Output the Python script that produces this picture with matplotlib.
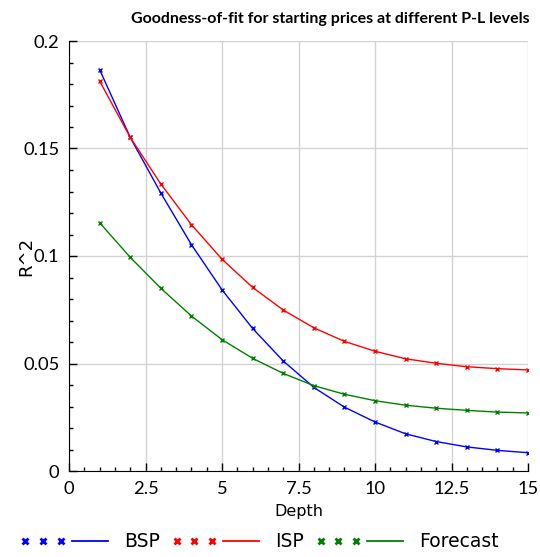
import matplotlib
matplotlib.use("Agg")
import matplotlib.pyplot as plt
from matplotlib.lines import Line2D
from matplotlib.legend_handler import HandlerTuple
from matplotlib.ticker import MultipleLocator, FuncFormatter

depth = list(range(1, 16))
bsp = [0.1867, 0.1552, 0.1293, 0.1053, 0.0843, 0.0663, 0.0512, 0.0389, 0.0297,
       0.0228, 0.0173, 0.0137, 0.0112, 0.0096, 0.0085]
isp = [0.1814, 0.1552, 0.1335, 0.1146, 0.0985, 0.0854, 0.0749, 0.0666, 0.0603,
       0.0557, 0.0522, 0.0501, 0.0485, 0.0476, 0.0470]
forecast = [0.1155, 0.0994, 0.0850, 0.0721, 0.0611, 0.0524, 0.0454, 0.0397, 0.0357,
            0.0327, 0.0306, 0.0292, 0.0282, 0.0274, 0.0270]
series_names = ["BSP", "ISP", "Forecast"]
colors = ["#0000ff", "#ff0000", "#008000"]

fig = plt.figure(figsize=(5.4, 5.57), dpi=100)
ax = fig.add_axes([69/540, 1-471/557, (528-69)/540, (471-41)/557])

handles = []
for vals, c in zip([bsp, isp, forecast], colors):
    ax.plot(depth, vals, color=c, lw=1.0, marker="x", ms=3.5, mew=1.0)
    mk = Line2D([], [], color=c, ls="none", marker="x", ms=5, mew=2)
    ln = Line2D([], [], color=c, lw=1.3)
    handles.append((mk, ln))

ax.set_xlim(0, 15)
ax.set_ylim(0, 0.2)
ax.xaxis.set_major_locator(MultipleLocator(2.5))
ax.xaxis.set_minor_locator(MultipleLocator(0.5))
ax.yaxis.set_major_locator(MultipleLocator(0.05))
ax.yaxis.set_minor_locator(MultipleLocator(0.01))
fmt = FuncFormatter(lambda v, p: ("%g" % round(v, 4)))
ax.xaxis.set_major_formatter(fmt)
ax.yaxis.set_major_formatter(fmt)
ax.grid(True, which="major", color="#d3d3d3", lw=1.0)
ax.set_axisbelow(True)
for s in ["top", "right"]:
    ax.spines[s].set_visible(False)
ax.tick_params(axis="both", which="major", direction="in", length=6, width=1,
               labelsize=13.2)
ax.tick_params(axis="x", which="major", pad=7)
ax.tick_params(axis="y", which="major", pad=7)
ax.tick_params(axis="both", which="minor", direction="in", length=3, width=1)
for lab in ax.get_xticklabels() + ax.get_yticklabels():
    lab.set_family("Lato")

ax.set_xlabel("Depth", fontsize=11.5, labelpad=5)
ax.set_ylabel("R^2", fontsize=13, labelpad=-9)
fig.text(530/540, 1-19/557, "Goodness-of-fit for starting prices at different P-L levels",
         ha="right", va="center", fontsize=11.5, fontweight="bold", family="Lato")

leg = fig.legend(handles, series_names, loc="lower center", bbox_to_anchor=(0.48, -0.02),
                 ncol=3, frameon=False, fontsize=13.5, handlelength=5.0,
                 handletextpad=0.55, columnspacing=0.6,
                 handler_map={tuple: HandlerTuple(ndivide=None, pad=0.0)},
                 numpoints=3)

fig.savefig("out.png", dpi=100)
